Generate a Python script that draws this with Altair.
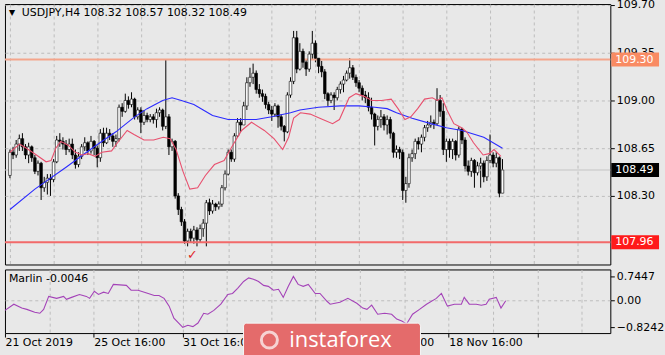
import altair as alt
import pandas as pd

# ---------------- data ----------------
symbol = "USDJPY"
timeframe = "H4"

opens = [108.45, 108.62, 108.60, 108.68, 108.72, 108.66, 108.60, 108.66, 108.58, 108.48,
         108.54, 108.36, 108.40, 108.43, 108.42, 108.55, 108.71, 108.70, 108.68, 108.64,
         108.68, 108.60, 108.53, 108.59, 108.66, 108.69, 108.63, 108.70, 108.65, 108.58,
         108.76, 108.69, 108.76, 108.74, 108.70, 108.72, 108.95, 108.92, 109.00, 108.97,
         109.01, 108.88, 108.93, 108.84, 108.89, 108.86, 108.88, 108.86, 108.91, 108.93,
         108.81, 108.88, 108.66, 108.70, 108.30, 108.20, 108.11, 107.97, 108.04, 107.99,
         108.05, 107.98, 108.06, 108.10, 108.25, 108.19, 108.24, 108.22, 108.24, 108.36,
         108.46, 108.62, 108.57, 108.74, 108.84, 108.82, 108.96, 109.13, 109.17, 109.20,
         109.08, 109.05, 109.03, 108.97, 108.93, 108.90, 108.96, 108.88, 108.81, 108.77,
         109.04, 109.14, 109.46, 109.23, 109.36, 109.28, 109.23, 109.34, 109.42, 109.31,
         109.25, 109.21, 109.05, 109.00, 109.04, 109.02, 109.08, 109.12, 109.15, 109.20,
         109.24, 109.17, 109.13, 109.09, 109.04, 109.02, 108.95, 108.90, 108.81, 108.86,
         108.88, 108.82, 108.86, 108.76, 108.62, 108.64, 108.62, 108.34, 108.39, 108.58,
         108.61, 108.70, 108.68, 108.73, 108.80, 108.82, 108.84, 108.83, 109.00, 108.92,
         108.64, 108.70, 108.64, 108.70, 108.60, 108.79, 108.71, 108.52, 108.48, 108.56,
         108.47, 108.52, 108.54, 108.44, 108.56, 108.60, 108.54, 108.58, 108.32]

highs = [108.64, 108.66, 108.71, 108.75, 108.76, 108.68, 108.69, 108.67, 108.60, 108.56,
         108.55, 108.44, 108.46, 108.46, 108.57, 108.74, 108.76, 108.73, 108.71, 108.72,
         108.72, 108.64, 108.62, 108.68, 108.73, 108.70, 108.74, 108.71, 108.67, 108.79,
         108.80, 108.80, 108.79, 108.76, 108.75, 108.97, 108.98, 109.05, 109.03, 109.06,
         109.02, 108.95, 108.95, 108.93, 108.91, 108.90, 108.90, 108.94, 108.95, 108.94,
         109.30, 108.90, 108.72, 108.71, 108.32, 108.22, 108.13, 108.06, 108.06, 108.08,
         108.07, 108.09, 108.13, 108.27, 108.28, 108.27, 108.25, 108.26, 108.38, 108.49,
         108.64, 108.64, 108.76, 108.87, 108.87, 108.99, 109.17, 109.24, 109.27, 109.22,
         109.12, 109.08, 109.05, 108.99, 108.96, 108.98, 108.97, 108.90, 108.82, 109.06,
         109.17, 109.51, 109.51, 109.42, 109.38, 109.30, 109.36, 109.51, 109.44, 109.31,
         109.29, 109.23, 109.06, 109.06, 109.06, 109.10, 109.14, 109.18, 109.22, 109.31,
         109.26, 109.19, 109.15, 109.11, 109.07, 109.06, 109.02, 108.91, 108.89, 108.93,
         108.90, 108.89, 108.88, 108.77, 108.67, 108.66, 108.64, 108.44, 108.61, 108.64,
         108.72, 108.73, 108.75, 108.82, 108.85, 108.89, 108.86, 109.09, 109.04, 108.98,
         108.72, 108.72, 108.72, 108.71, 108.81, 108.80, 108.73, 108.56, 108.58, 108.57,
         108.55, 108.58, 108.56, 108.59, 108.75, 108.62, 108.62, 108.59, 108.57]

lows = [108.43, 108.57, 108.58, 108.63, 108.63, 108.57, 108.54, 108.55, 108.46, 108.45,
        108.27, 108.33, 108.31, 108.30, 108.40, 108.54, 108.66, 108.64, 108.60, 108.62,
        108.57, 108.50, 108.51, 108.57, 108.63, 108.60, 108.61, 108.60, 108.51, 108.55,
        108.66, 108.68, 108.71, 108.66, 108.66, 108.70, 108.88, 108.91, 108.94, 108.95,
        108.86, 108.86, 108.76, 108.82, 108.84, 108.84, 108.83, 108.80, 108.88, 108.78,
        108.79, 108.60, 108.63, 108.28, 108.16, 108.08, 107.95, 107.93, 107.96, 107.95,
        107.93, 107.96, 108.00, 107.93, 108.16, 108.17, 108.19, 108.20, 108.22, 108.34,
        108.45, 108.55, 108.55, 108.73, 108.77, 108.82, 108.93, 109.10, 109.12, 109.05,
        109.02, 108.99, 108.94, 108.90, 108.85, 108.88, 108.80, 108.78, 108.70, 108.76,
        109.02, 109.12, 109.20, 109.22, 109.24, 109.18, 109.21, 109.30, 109.28, 109.20,
        109.17, 109.01, 108.96, 108.98, 108.93, 109.00, 109.05, 109.06, 109.14, 109.16,
        109.15, 109.10, 109.06, 109.00, 108.98, 108.92, 108.86, 108.67, 108.78, 108.80,
        108.78, 108.75, 108.72, 108.58, 108.58, 108.57, 108.27, 108.25, 108.36, 108.55,
        108.57, 108.64, 108.62, 108.70, 108.77, 108.80, 108.79, 108.82, 108.88, 108.60,
        108.55, 108.58, 108.57, 108.56, 108.58, 108.68, 108.48, 108.45, 108.44, 108.36,
        108.45, 108.36, 108.40, 108.41, 108.54, 108.51, 108.51, 108.29, 108.32]

closes = [108.62, 108.60, 108.68, 108.72, 108.66, 108.60, 108.66, 108.58, 108.48, 108.54,
          108.36, 108.40, 108.43, 108.42, 108.55, 108.71, 108.70, 108.68, 108.64, 108.68,
          108.60, 108.53, 108.59, 108.66, 108.69, 108.63, 108.70, 108.65, 108.58, 108.76,
          108.69, 108.76, 108.74, 108.70, 108.72, 108.95, 108.92, 109.00, 108.97, 109.01,
          108.88, 108.93, 108.84, 108.89, 108.86, 108.88, 108.86, 108.91, 108.93, 108.81,
          108.88, 108.66, 108.70, 108.30, 108.20, 108.11, 107.97, 108.04, 107.99, 108.05,
          107.98, 108.06, 108.10, 108.25, 108.19, 108.24, 108.22, 108.24, 108.36, 108.46,
          108.62, 108.57, 108.74, 108.84, 108.82, 108.96, 109.13, 109.17, 109.20, 109.08,
          109.05, 109.03, 108.97, 108.93, 108.90, 108.96, 108.88, 108.81, 108.77, 109.04,
          109.14, 109.46, 109.23, 109.36, 109.28, 109.23, 109.34, 109.42, 109.31, 109.25,
          109.21, 109.05, 109.00, 109.04, 109.02, 109.08, 109.12, 109.15, 109.20, 109.24,
          109.17, 109.13, 109.09, 109.04, 109.02, 108.95, 108.90, 108.81, 108.86, 108.88,
          108.82, 108.86, 108.76, 108.62, 108.64, 108.62, 108.34, 108.39, 108.58, 108.61,
          108.70, 108.68, 108.73, 108.80, 108.82, 108.84, 108.83, 109.00, 108.92, 108.64,
          108.70, 108.64, 108.70, 108.60, 108.79, 108.71, 108.52, 108.48, 108.56, 108.47,
          108.52, 108.54, 108.44, 108.56, 108.60, 108.54, 108.58, 108.32, 108.49]

# slow moving average (blue)
ma_slow_idx = [0, 8, 18, 27, 34, 40, 44, 49, 52, 55, 59, 62, 65, 70, 74, 79, 84, 90, 93, 99,
               106, 112, 117, 121, 124, 129, 135, 140, 145, 152, 158]
ma_slow_val = [108.20, 108.35, 108.51, 108.66, 108.77, 108.88, 108.94, 109.00, 109.02, 109.00,
               108.97, 108.93, 108.89, 108.86, 108.86, 108.86, 108.88, 108.91, 108.93, 108.95,
               108.96, 108.96, 108.95, 108.94, 108.91, 108.87, 108.83, 108.80, 108.78, 108.73,
               108.65]

# fast moving average (red)
ma_fast_idx = [0, 3.1, 5.3, 8.5, 11.6, 13.2, 14.7, 16.3, 18.8, 21, 23.2, 25.1, 27.3, 29.5, 32.6,
               34.5, 37.6, 39.8, 43, 46.1, 49.2, 51.4, 53.3, 55.5, 57.7, 60.2, 62.7, 65.6, 68.7,
               71.2, 74.3, 77.5, 81.6, 84.7, 87.5, 89.4, 91, 93.2, 96.3, 99.4, 103.5, 105.7,
               108.8, 111, 113.6, 116.1, 119.2, 122.3, 124.5, 126.7, 128.6, 130.8, 133, 135.5,
               137.1, 138.6, 140.2, 142.4, 144.9, 146.5, 148.7, 151.8, 153.7, 155.3, 157.5]
ma_fast_val = [108.62, 108.68, 108.65, 108.60, 108.55, 108.56, 108.65, 108.70, 108.67, 108.62,
               108.60, 108.61, 108.59, 108.62, 108.63, 108.69, 108.78, 108.75, 108.71, 108.71,
               108.73, 108.72, 108.64, 108.48, 108.35, 108.36, 108.45, 108.53, 108.56, 108.66,
               108.78, 108.84, 108.78, 108.72, 108.64, 108.73, 108.87, 108.91, 108.90, 108.87,
               108.83, 108.86, 109.02, 109.05, 109.03, 109.00, 109.00, 109.01, 108.94, 108.86,
               108.88, 108.94, 109.01, 109.02, 109.00, 109.02, 108.93, 108.83, 108.80, 108.77,
               108.69, 108.60, 108.61, 108.64, 108.59]

# Marlin oscillator (lower panel)
marlin_idx = [0, 2.8, 5.3, 6.9, 9.4, 11, 12.2, 13.8, 16.3, 18.5, 19.4, 21, 23.5, 25.7, 26.7, 28.2,
              29.5, 31.1, 32.6, 34.2, 38.3, 39.8, 42, 45.2, 47.1, 48.6, 50.2, 51.8, 53.3, 56.1,
              57.7, 59.3, 60.9, 62.7, 64, 65.9, 68.1, 70.3, 71.8, 73.4, 75.3, 76.9, 78.4, 80,
              81.6, 83.1, 84.7, 86.3, 87.8, 89.4, 91, 92.5, 94.1, 95.7, 97.9, 99.4, 101.6, 102.6,
              105.7, 108.2, 111, 112.9, 114.2, 115.7, 117.6, 119.8, 122, 123.6, 125.2, 126.7,
              128.6, 130.8, 133, 136.1, 137.7, 139.6, 141.8, 144, 144.9, 146.5, 148.7, 150.3,
              151.8, 152.8, 155, 156.5, 158]
marlin_val = [-0.30, -0.11, -0.23, -0.27, -0.36, -0.39, -0.27, 0.13, 0.07, 0.13, 0.04, 0.10, 0.19,
              0.13, 0.07, 0.29, 0.19, 0.26, 0.22, 0.50, 0.47, 0.32, 0.32, 0.22, 0.16, 0.16, 0.07,
              -0.17, -0.54, -0.8242, -0.76, -0.80, -0.69, -0.39, -0.42, -0.30, -0.11, 0.19, 0.22,
              0.38, 0.59, 0.70, 0.66, 0.59, 0.47, 0.44, 0.32, 0.35, 0.10, 0.44, 0.7447, 0.50,
              0.44, 0.50, 0.22, 0.22, -0.02, -0.11, -0.05, 0.07, -0.08, -0.23, -0.27, -0.14,
              -0.42, -0.39, -0.42, -0.57, -0.63, -0.72, -0.42, -0.27, -0.11, 0.07, 0.22, -0.17,
              -0.11, -0.11, 0.10, -0.11, -0.11, -0.14, -0.11, 0.04, 0.10, -0.23, -0.0046]

level_names = ["resistance", "last", "support"]
level_prices = [109.30, 108.49, 107.96]
level_colors = ["#f98b63", "#000000", "#ff1a1a"]

price_ticks = [108.30, 108.65, 109.00, 109.35, 109.70]
osc_ticks = [0.7447, 0.0, -0.8242]
vgrid_idx = [0, 14, 28, 42, 56, 70, 84, 98, 112, 126, 140, 154, 168, 182]
date_tick_idx = [0, 28, 56, 84, 112, 140]
date_labels = ["21 Oct 2019", "25 Oct 16:00", "31 Oct 16:00", "6 Nov 08:00",
               "12 Nov 00:00", "18 Nov 16:00"]
check_idx = [58.5]
check_price = [107.87]

# ---------------- styling ----------------
BG = "#e8e8e8"
GRID = "#bcbcbc"
FONT = "DejaVu Sans"
W = 609
H_MAIN = 262
H_OSC = 64
XDOM = [0, 191]

candles = pd.DataFrame({
    "i": list(range(len(closes))),
    "open": opens, "high": highs, "low": lows, "close": closes,
})
slow = pd.DataFrame({"i": ma_slow_idx, "v": ma_slow_val})
fast = pd.DataFrame({"i": ma_fast_idx, "v": ma_fast_val})
marlin = pd.DataFrame({"i": marlin_idx, "v": marlin_val})
levels = pd.DataFrame({"name": level_names, "p": level_prices})
checks = pd.DataFrame({"i": check_idx, "p": check_price})

xs = alt.Scale(domain=XDOM, nice=False, zero=False)
ys = alt.Scale(domain=[107.797, 109.707], nice=False, zero=False)
os_ = alt.Scale(domain=[-1.0, 0.96], nice=False, zero=False)

x_main = alt.X("i:Q", scale=xs, axis=alt.Axis(values=vgrid_idx, labels=False, ticks=False,
                                               domain=False, title=None, grid=True,
                                               gridDash=[3, 3], gridColor=GRID))
y_axis_main = alt.Axis(orient="right", values=price_ticks, format=".2f", title=None,
                       grid=True, gridDash=[3, 3], gridColor=GRID, tickSize=4,
                       tickColor="black", domain=False, labelPadding=2, zindex=0,
                       labelFont=FONT, labelFontSize=11, labelColor="black")

base = alt.Chart(candles)

wicks = base.mark_rule(color="black", strokeWidth=1, clip=True).encode(
    x=x_main,
    y=alt.Y("low:Q", scale=ys, axis=y_axis_main),
    y2="high:Q",
)
bodies = base.mark_bar(size=2.6, stroke="black", strokeWidth=0.6, clip=True).encode(
    x=alt.X("i:Q", scale=xs),
    y=alt.Y("open:Q", scale=ys),
    y2="close:Q",
    fill=alt.condition("datum.close >= datum.open", alt.value("#ffffff"), alt.value("#000000")),
)

lvl = alt.Chart(levels)
last_line = lvl.transform_filter("datum.name == 'last'").mark_rule(
    color="#c4c4c4", strokeWidth=1).encode(y=alt.Y("p:Q", scale=ys))
res_line = lvl.transform_filter("datum.name == 'resistance'").mark_rule(
    color="#f4a58c", strokeWidth=2).encode(y=alt.Y("p:Q", scale=ys))
sup_line = lvl.transform_filter("datum.name == 'support'").mark_rule(
    color="#f26a6a", strokeWidth=2).encode(y=alt.Y("p:Q", scale=ys))

slow_line = alt.Chart(slow).mark_line(color="#2b2bff", strokeWidth=1.1, clip=True).encode(
    x=alt.X("i:Q", scale=xs), y=alt.Y("v:Q", scale=ys))
fast_line = alt.Chart(fast).mark_line(color="#e8506e", strokeWidth=1.1, clip=True).encode(
    x=alt.X("i:Q", scale=xs), y=alt.Y("v:Q", scale=ys))

boxes = lvl.mark_rect(yOffset=-7, y2Offset=7, clip=False).encode(
    x=alt.value(610), x2=alt.value(658),
    y=alt.Y("p:Q", scale=ys), y2="p:Q",
    color=alt.Color("name:N", scale=alt.Scale(domain=level_names, range=level_colors), legend=None),
)
box_text = lvl.mark_text(align="left", baseline="middle", color="white", font=FONT,
                         fontSize=11, clip=False).encode(
    x=alt.value(614), y=alt.Y("p:Q", scale=ys), text=alt.Text("p:Q", format=".2f"))

last = candles.iloc[-1]
title_str = f"{symbol},{timeframe}  {last['open']:.2f} {last['high']:.2f} {last['low']:.2f} {last['close']:.2f}"
title_df = pd.DataFrame({"t": [title_str]})
title_txt = alt.Chart(title_df).mark_text(align="left", baseline="middle", font=FONT,
                                          fontSize=11, color="black").encode(
    x=alt.value(17), y=alt.value(9), text="t:N")
tri = alt.Chart(pd.DataFrame({"t": ["▼"]})).mark_text(align="left", baseline="middle",
                                                      font=FONT, fontSize=8, color="black").encode(
    x=alt.value(4), y=alt.value(9), text="t:N")
check = alt.Chart(checks).mark_text(text="✓", color="#e02828", fontSize=13, font=FONT,
                                    fontWeight="bold").encode(
    x=alt.X("i:Q", scale=xs), y=alt.Y("p:Q", scale=ys))

main = alt.layer(
    wicks, last_line, res_line, sup_line, bodies, slow_line, fast_line,
    check, title_txt, tri, boxes, box_text,
).properties(width=W, height=H_MAIN)

# ---------------- oscillator panel ----------------
lab_expr = " : ".join(
    [f"datum.value === {v} ? '{t}'" for v, t in zip(date_tick_idx, date_labels)]) + " : ''"
x_osc = alt.X("i:Q", scale=xs, axis=alt.Axis(
    values=vgrid_idx, title=None, grid=True, gridDash=[3, 3], gridColor=GRID,
    gridOpacity={"condition": {"test": "datum.value > 0", "value": 1}, "value": 0},
    tickOpacity={"condition": {"test": "datum.value % 28 === 0", "value": 1}, "value": 0},
    tickSize=4, tickColor="black", domain=False, labelExpr=lab_expr, labelAlign="left",
    labelOverlap=False, labelPadding=0, labelFont=FONT, labelFontSize=11, labelColor="black",
    labelFlush=False))
y_osc = alt.Y("v:Q", scale=os_, axis=alt.Axis(
    orient="right", values=osc_ticks, title=None, grid=True, gridDash=[3, 3], gridColor=GRID,
    gridOpacity={"condition": {"test": "datum.value === 0", "value": 1}, "value": 0},
    labelExpr="datum.value === 0 ? '0.00' : format(datum.value, '.4f')",
    tickSize=4, tickColor="black", domain=False, labelPadding=2, zindex=0,
    labelFont=FONT, labelFontSize=11, labelColor="black"))

marlin_line = alt.Chart(marlin).mark_line(color="#a443b8", strokeWidth=1.1, clip=True).encode(
    x=x_osc, y=y_osc)
marlin_label = alt.Chart(pd.DataFrame({"t": [f"Marlin {marlin_val[-1]:.4f}"]})).mark_text(
    align="left", baseline="middle", font=FONT, fontSize=11, color="black").encode(
    x=alt.value(4), y=alt.value(10), text="t:N")

wm_rect = alt.Chart(pd.DataFrame({"a": [0]})).mark_rect(
    color="#e46b6b", cornerRadius=3, stroke="#f6f6f6", strokeWidth=1, clip=False).encode(
    x=alt.value(240), x2=alt.value(418), y=alt.value(54), y2=alt.value(89))
wm_text = alt.Chart(pd.DataFrame({"t": ["instaforex"]})).mark_text(
    align="left", baseline="middle", font="Open Sans", fontSize=22, color="white",
    clip=False).encode(x=alt.value(286), y=alt.value(71), text="t:N")
wm_logo = alt.Chart(pd.DataFrame({"a": [0]})).mark_point(
    shape="circle", size=260, stroke="white", strokeWidth=3, filled=False, clip=False).encode(
    x=alt.value(266), y=alt.value(71))

osc = alt.layer(marlin_line, marlin_label, wm_rect, wm_text, wm_logo).properties(
    width=W, height=H_OSC)

chart = alt.vconcat(main, osc, spacing=3).configure(
    background=BG, padding={"left": 3, "top": -3, "right": 0, "bottom": 0}, font=FONT
).configure_view(stroke="black", strokeWidth=1)

chart.save("out.html", embed_options={"renderer": "svg", "actions": False})
